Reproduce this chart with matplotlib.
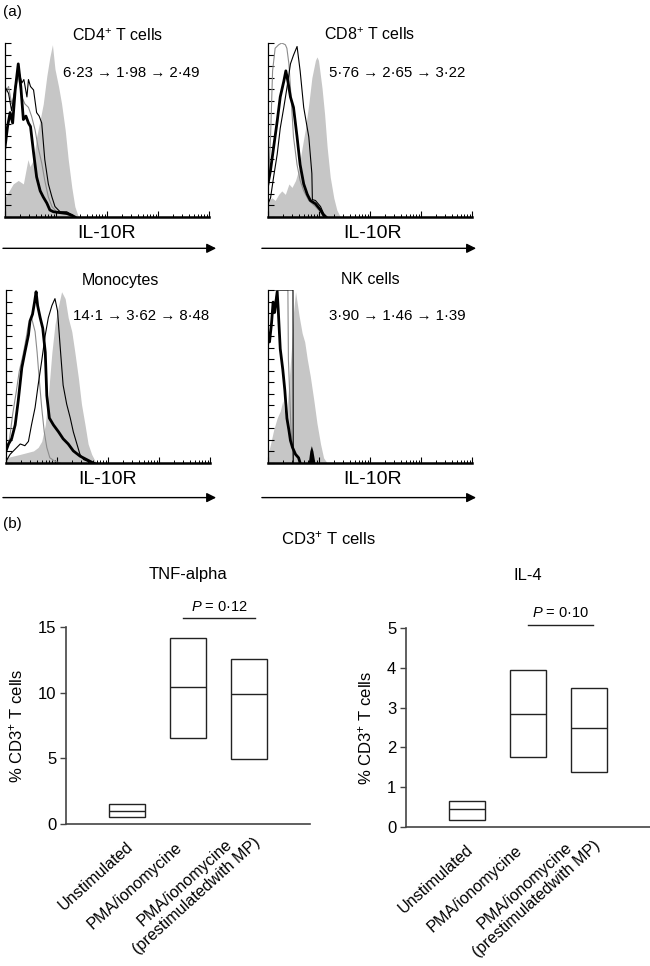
import numpy as np
import matplotlib
matplotlib.use('Agg')
import matplotlib.pyplot as plt
from matplotlib.ticker import FixedLocator, NullFormatter
from matplotlib.transforms import ScaledTranslation

plt.rcParams['font.family'] = ['Liberation Sans', 'DejaVu Sans']
plt.rcParams['mathtext.fontset'] = 'custom'
plt.rcParams['mathtext.rm'] = 'Liberation Sans'
plt.rcParams['mathtext.it'] = 'Liberation Sans:italic'

# ---- (a) IL-10R histograms: x in log decades, y in % of max ----
cd4_fill = ([0, 0.16, 0.26, 0.36, 0.45, 0.49, 0.56, 0.62, 0.69, 0.75, 0.82, 0.88, 0.93, 0.98, 1.05, 1.11, 1.18, 1.24, 1.31, 1.37, 1.44],
            [11, 19, 21, 19, 33, 29, 33, 46, 56, 65, 81, 92, 99, 85, 75, 65, 50, 33, 17, 6, 0])
cd4_thick = ([0, 0.05, 0.10, 0.15, 0.20, 0.26, 0.31, 0.36, 0.41, 0.46, 0.50, 0.56, 0.62, 0.69, 0.75, 0.82, 0.88, 0.95, 1.21, 1.31, 1.37],
             [40, 52, 60, 54, 73, 88, 75, 56, 58, 54, 52, 37, 23, 15, 11.5, 8, 4, 3, 2, 1, 0])
cd4_thin = ([0, 0.07, 0.13, 0.20, 0.26, 0.33, 0.37, 0.43, 0.46, 0.50, 0.56, 0.62, 0.67, 0.72, 0.78, 0.85, 0.92, 0.98, 1.08, 1.21, 1.27, 1.37],
            [75, 71, 61, 75, 85, 77, 79, 69, 79, 75, 73, 60, 58, 54, 33, 19, 11.5, 6, 3, 3, 2, 0])
cd4_grey = ([0, 0.07, 0.13, 0.20, 0.26, 0.33, 0.39, 0.46, 0.52, 0.59, 0.65, 0.72, 0.78, 0.85, 0.92, 1.01, 1.21, 1.31],
            [71, 75, 65, 73, 81, 69, 65, 63, 58, 50, 40, 31, 21, 11.5, 6, 3, 2, 0])

cd8_fill = ([0, 0.08, 0.14, 0.21, 0.27, 0.34, 0.41, 0.47, 0.54, 0.60, 0.67, 0.73, 0.80, 0.86, 0.93, 0.96, 0.99, 1.06, 1.11, 1.16, 1.22, 1.29, 1.35, 1.42],
            [9.5, 11, 9.5, 13, 15, 13, 19, 17, 21, 27, 40, 50, 65, 80, 90, 92, 90, 74, 59, 40, 23, 11, 4, 0])
cd8_thick = ([0, 0.05, 0.11, 0.18, 0.24, 0.31, 0.35, 0.39, 0.44, 0.50, 0.57, 0.63, 0.70, 0.77, 0.83, 0.93, 1.03, 1.09, 1.12],
             [19, 27, 40, 55, 69, 78, 84, 78, 69, 63, 46, 30, 19, 13, 9.5, 7.6, 4, 1, 0])
cd8_thin = ([0, 0.05, 0.11, 0.18, 0.24, 0.31, 0.37, 0.44, 0.50, 0.57, 0.63, 0.70, 0.80, 0.86, 0.87, 0.93, 1.03, 1.09, 1.16],
            [7.6, 11, 23, 36, 51, 63, 74, 88, 93, 98, 84, 63, 46, 25, 10, 9.5, 6, 2, 0])
cd8_grey = ([0, 0.05, 0.09, 0.14, 0.21, 0.27, 0.34, 0.37, 0.41, 0.46, 0.50, 0.57, 0.63, 0.70, 0.80, 0.93, 1.06, 1.12],
            [13, 46, 84, 97, 99, 100, 99, 97, 88, 65, 46, 30, 21, 15, 9.5, 6, 2, 0])

mono_fill = ([0, 0.14, 0.28, 0.41, 0.54, 0.63, 0.70, 0.77, 0.83, 0.90, 0.96, 1.03, 1.09, 1.16, 1.22, 1.29, 1.35, 1.42, 1.48, 1.55, 1.61, 1.68, 1.75, 1.81],
             [3, 4, 5, 6, 7, 9, 12.5, 22, 39, 64, 80, 91, 99, 95, 84, 76, 64, 49, 34, 22, 11, 5, 1, 0])
mono_thick = ([0, 0.05, 0.11, 0.18, 0.24, 0.31, 0.37, 0.44, 0.47, 0.52, 0.56, 0.59, 0.62, 0.67, 0.72, 0.77, 0.80, 0.85, 0.93, 1.03, 1.12, 1.22, 1.32, 1.45, 1.58, 1.71],
              [7, 11, 14, 22, 36, 55, 64, 74, 82, 86, 93, 99, 91, 84, 78, 64, 39, 26, 22, 18, 14, 11, 7, 4, 2, 0])
mono_thin = ([0, 0.08, 0.18, 0.28, 0.37, 0.44, 0.50, 0.57, 0.63, 0.70, 0.77, 0.83, 0.90, 0.96, 1.01, 1.06, 1.12, 1.19, 1.26, 1.32, 1.39, 1.45, 1.52, 1.65, 1.75],
             [1, 5, 8, 11, 10, 12.5, 22, 32, 45, 59, 74, 84, 91, 95, 88, 68, 45, 34, 26, 18, 11, 5, 2, 0.4, 0])
mono_grey = ([0, 0.07, 0.13, 0.20, 0.26, 0.33, 0.37, 0.44, 0.50, 0.57, 0.61, 0.65, 0.70, 0.75, 0.80, 0.86, 0.96, 1.06],
             [7, 14, 28, 41, 53, 62, 68, 80, 84, 76, 64, 49, 32, 18, 9, 3, 1, 0])

nk_fill = ([0, 0.05, 0.11, 0.18, 0.24, 0.29, 0.34, 0.37, 0.41, 0.46, 0.50, 0.54, 0.57, 0.61, 0.67, 0.72, 0.77, 0.83, 0.90, 0.96, 1.03, 1.09, 1.16],
           [5, 11, 19, 26, 30, 36, 26, 30, 46, 66, 87, 99, 93, 85, 75, 70, 60, 50, 36, 23, 11, 3, 0])
nk_thick = ([0, 0.03, 0.07, 0.10, 0.13, 0.18, 0.20, 0.24, 0.29, 0.33, 0.37, 0.41, 0.44, 0.48, 0.54, 0.60, 0.63],
            [75, 70, 81, 93, 87, 99, 89, 66, 54, 42, 26, 19, 13, 9, 5, 3, 0])
nk_spike = ([0.79, 0.82, 0.85, 0.88, 0.92], [0, 7, 10, 7, 0])
nk_thin = ([0, 0.005, 0.47, 0.49, 0.495], [0, 100, 100, 100, 0])
nk_grey = ([0, 0.08, 0.15, 0.20, 0.39, 0.40, 0.45, 0.50], [66, 85, 95, 100, 100, 60, 20, 0])

hist_titles = ['CD4$^{+}$ T cells', 'CD8$^{+}$ T cells', 'Monocytes', 'NK cells']
mfi_values = [['6·23', '1·98', '2·49'], ['5·76', '2·65', '3·22'],
              ['14·1', '3·62', '8·48'], ['3·90', '1·46', '1·39']]

# ---- (b) box plots (min, median, max) ----
groups = ['Unstimulated', 'PMA/ionomycine', 'PMA/ionomycine\n(prestimulatedwith MP)']
tnf_low = [0.56, 6.53, 4.96]
tnf_med = [0.96, 10.4, 9.87]
tnf_high = [1.52, 14.15, 12.58]
il4_low = [0.18, 1.75, 1.39]
il4_med = [0.45, 2.85, 2.5]
il4_high = [0.65, 3.94, 3.49]

W, H = 650, 966
fig = plt.figure(figsize=(W / 100, H / 100), dpi=100)


def px_axes(left, top, right, bottom):
    return fig.add_axes([left / W, 1 - bottom / H, (right - left) / W, (bottom - top) / H])


hist_axes = [px_axes(5, 43, 209, 217), px_axes(268, 43, 472, 217),
             px_axes(6, 290, 210, 463), px_axes(268, 290, 472, 463)]
hist_data = [(cd4_fill, cd4_grey, cd4_thin, cd4_thick),
             (cd8_fill, cd8_grey, cd8_thin, cd8_thick),
             (mono_fill, mono_grey, mono_thin, mono_thick),
             (nk_fill, nk_grey, nk_thin, nk_thick)]
title_pos = [(0.55, 1.04), (0.5, 1.045), (0.56, 1.055), (0.5, 1.06)]
mfi_pos = [(0.285, 0.83), (0.30, 0.83), (0.33, 0.85), (0.30, 0.85)]
arrow_x = [(-0.01, 1.035), (-0.03, 1.02), (-0.015, 1.03), (-0.03, 1.02)]

major_x = [0, 1, 2, 3, 4]
minor_x = [d + np.log10(k) for d in range(4) for k in range(2, 10)]

for i, ax in enumerate(hist_axes):
    fill, grey, thin, thick = hist_data[i]
    ax.fill_between(fill[0], fill[1], color='#c6c6c6', lw=0)
    ax.plot(grey[0], grey[1], color='#8c8c8c', lw=0.8)
    ax.plot(thin[0], thin[1], color='black', lw=0.8)
    ax.plot(thick[0], thick[1], color='black', lw=2.0)
    if i == 3:
        ax.fill_between(nk_spike[0], nk_spike[1], color='black', lw=0)
    ax.set_xlim(0, 4)
    ax.set_ylim(0, 100)
    for s in ['top', 'right']:
        ax.spines[s].set_visible(False)
    ax.spines['left'].set_linewidth(0.9)
    ax.spines['bottom'].set_linewidth(1.8)
    ax.yaxis.set_major_locator(FixedLocator(np.linspace(0, 100, 16)))
    ax.xaxis.set_major_locator(FixedLocator(major_x))
    ax.xaxis.set_minor_locator(FixedLocator(minor_x))
    ax.xaxis.set_major_formatter(NullFormatter())
    ax.yaxis.set_major_formatter(NullFormatter())
    ax.tick_params(axis='y', direction='in', length=4, width=0.8)
    ax.tick_params(axis='x', which='major', direction='in', length=4.5, width=0.8)
    ax.tick_params(axis='x', which='minor', direction='in', length=2.5, width=0.7)
    ax.text(title_pos[i][0], title_pos[i][1], hist_titles[i], transform=ax.transAxes,
            ha='center', va='center', fontsize=11.5)
    ax.text(mfi_pos[i][0], mfi_pos[i][1], ' → '.join(mfi_values[i]), transform=ax.transAxes,
            ha='left', va='center', fontsize=10.8)
    ax.text(0.5 if i % 2 == 0 else 0.515, -0.095, 'IL-10R', transform=ax.transAxes,
            ha='center', va='center', fontsize=14)
    ay = -0.18 if i < 2 else -0.2
    ax.annotate('', xy=(arrow_x[i][1], ay), xytext=(arrow_x[i][0], ay),
                xycoords='axes fraction', annotation_clip=False,
                arrowprops=dict(arrowstyle='-|>', color='black', lw=1.0,
                                mutation_scale=14, shrinkA=0, shrinkB=0))

fig.text(3 / W, 1 - 12 / H, '(a)', ha='left', va='center', fontsize=11)
fig.text(3 / W, 1 - 524 / H, '(b)', ha='left', va='center', fontsize=11)
fig.text(328 / W, 1 - 538 / H, 'CD3$^{+}$ T cells', ha='center', va='center', fontsize=12)

# ---- (b) ----
box_axes = [px_axes(66, 627, 310, 824), px_axes(406, 628, 650, 827)]
box_data = [(tnf_low, tnf_med, tnf_high), (il4_low, il4_med, il4_high)]
box_titles = ['TNF-alpha', 'IL-4']
box_ymax = [15, 5]
box_ticks = [[0, 5, 10, 15], [0, 1, 2, 3, 4, 5]]
p_text = ['$P$ = 0·12', '$P$ = 0·10']
p_line = [(1.92, 3.1, 15.65), (2.0, 3.07, 5.08)]
pos = [1, 2, 3]
label_shift = [(4, 21), (-8, 21), (3, 10)]  # px, fine placement of rotated labels

for j, ax in enumerate(box_axes):
    low, med, high = box_data[j]
    heights = [h - l for h, l in zip(high, low)]
    ax.bar(pos, heights, bottom=low, width=0.6, fill=False, edgecolor='#222222', lw=1.0)
    ax.hlines(med, [p - 0.3 for p in pos], [p + 0.3 for p in pos], color='#222222', lw=1.0)
    ax.set_xlim(0, 4)
    ax.set_ylim(0, box_ymax[j])
    for s in ['top', 'right']:
        ax.spines[s].set_visible(False)
    for s in ['left', 'bottom']:
        ax.spines[s].set_color('#444444')
        ax.spines[s].set_linewidth(1.2)
    ax.set_yticks(box_ticks[j])
    ax.tick_params(axis='y', direction='out', length=4, width=1, colors='#444444',
                   labelcolor='black', labelsize=12, pad=3)
    ax.set_xticks(pos)
    ax.set_xticklabels(groups, rotation=42, ha='right', va='center',
                       rotation_mode='anchor', multialignment='center', fontsize=11.6)
    ax.tick_params(axis='x', length=0, pad=0)
    for lbl, (dx, dy) in zip(ax.get_xticklabels(), label_shift):
        lbl.set_transform(lbl.get_transform() + ScaledTranslation(dx / 100, -dy / 100, fig.dpi_scale_trans))
    ax.set_ylabel('% CD3$^{+}$ T cells', fontsize=12, labelpad=9)
    ax.set_title(box_titles[j], fontsize=12, y=1.2)
    x0, x1, yl = p_line[j]
    ax.plot([x0, x1], [yl, yl], color='#222222', lw=1.0, clip_on=False)
    ax.text((x0 + x1) / 2, yl + box_ymax[j] * 0.06, p_text[j], ha='center', va='center', fontsize=10.5)

fig.savefig('out.png', dpi=100)
